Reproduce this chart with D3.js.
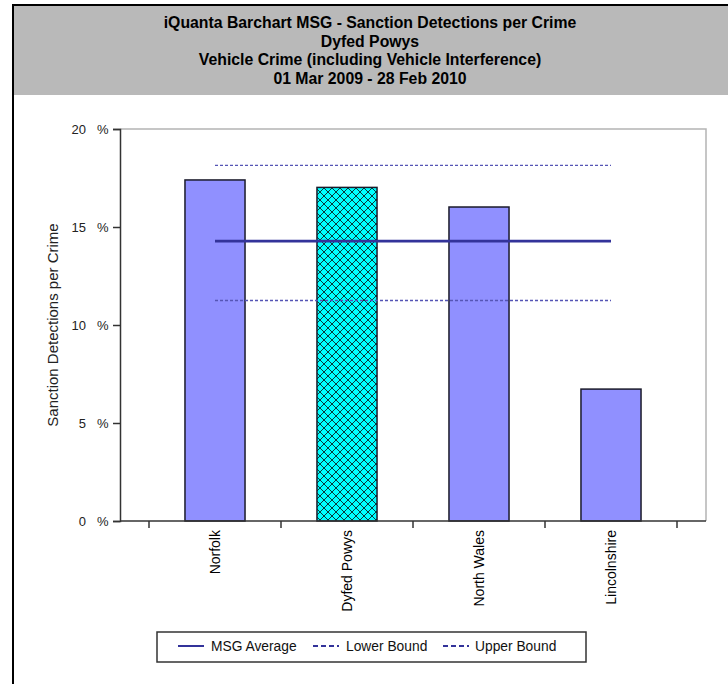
<!DOCTYPE html>
<html><head><meta charset="utf-8">
<script src="https://cdn.jsdelivr.net/npm/d3@7"></script>
<style>body{margin:0;background:#fff;} svg{display:block;font-family:"Liberation Sans",Arial,sans-serif;}</style>
</head><body><svg id="c" width="728" height="684"></svg>
<script>
const titleLines = ["iQuanta Barchart MSG - Sanction Detections per Crime","Dyfed Powys","Vehicle Crime (including Vehicle Interference)","01 Mar 2009 - 28 Feb 2010"];
const categories = ["Norfolk","Dyfed Powys","North Wales","Lincolnshire"];
const values = [17.4, 17.02, 16.02, 6.73];
const highlight = ["Dyfed Powys"];
const msgAverage = 14.28;
const lowerBound = 11.25;
const upperBound = 18.14;
const yTicks = [0,5,10,15,20];
const legendLabels = ["MSG Average","Lower Bound","Upper Bound"];
const yLabel = "Sanction Detections per Crime";

const svg = d3.select("#c");
const defs = svg.append("defs");
const pat = defs.append("pattern").attr("id","hatch").attr("patternUnits","userSpaceOnUse").attr("width",8).attr("height",8);
pat.append("rect").attr("width",8).attr("height",8).attr("fill","#00ffff");
pat.append("path").attr("d","M0,0L8,8M8,0L0,8M-1,7L1,9M7,-1L9,1M-1,1L1,-1M7,9L9,7").attr("stroke","#0a3a3a").attr("stroke-width",1);

// header
svg.append("rect").attr("x",13).attr("y",5).attr("width",715).attr("height",90).attr("fill","#b9b9b9");
svg.append("line").attr("x1",13).attr("x2",728).attr("y1",5).attr("y2",5).attr("stroke","#000").attr("stroke-width",2);
svg.append("line").attr("x1",13).attr("x2",13).attr("y1",4).attr("y2",684).attr("stroke","#000").attr("stroke-width",2);
svg.append("g").selectAll("text").data(titleLines).join("text")
  .attr("x",370).attr("y",(d,i)=>28+i*18.5).attr("text-anchor","middle")
  .attr("font-size",15.8).attr("font-weight","bold").attr("fill","#000").text(d=>d);

const plot = {left:120,right:706,top:129,bottom:521};
const y = d3.scaleLinear().domain([0,20]).range([plot.bottom,plot.top]);
const x = d3.scaleBand().domain(categories).range([149,677]).padding(0);
const bw = x.bandwidth()*0.455;
const cx = c => x(c)+x.bandwidth()/2;

// plot frame
svg.append("path").attr("d",`M${plot.left},${plot.top}H${plot.right}V${plot.bottom}`).attr("fill","none").attr("stroke","#b4b4b4").attr("stroke-width",1.5);

// bars
svg.append("g").selectAll("rect").data(categories).join("rect")
  .attr("x",c=>cx(c)-bw/2).attr("width",bw)
  .attr("y",(c,i)=>y(values[i])).attr("height",(c,i)=>y(0)-y(values[i]))
  .attr("fill",c=>highlight.includes(c)?"url(#hatch)":"#9090ff")
  .attr("stroke","#1a1a2a").attr("stroke-width",1.5);

// reference lines
const x1 = cx(categories[0]), x2 = cx(categories[categories.length-1]);
const refs = [
  {v:upperBound, w:1.3, dash:"3,2", c:"#5555b5"},
  {v:lowerBound, w:1.3, dash:"3,2", c:"#5555b5"},
  {v:msgAverage, w:2.6, dash:null, c:"#33339a"}
];
svg.append("g").selectAll("line").data(refs).join("line")
  .attr("x1",x1).attr("x2",x2).attr("y1",d=>y(d.v)).attr("y2",d=>y(d.v))
  .attr("stroke",d=>d.c).attr("stroke-width",d=>d.w).attr("stroke-dasharray",d=>d.dash);

// y axis
const ya = svg.append("g").attr("transform",`translate(${plot.left},0)`)
  .call(d3.axisLeft(y).tickValues(yTicks).tickSize(7).tickFormat(""));
ya.select(".domain").attr("stroke","#333").attr("stroke-width",1.5);
ya.selectAll(".tick line").attr("stroke","#333").attr("stroke-width",1.5);
const yl = svg.append("g");
yl.selectAll("text.n").data(yTicks).join("text").attr("class","n")
  .attr("x",86).attr("y",d=>y(d)+5).attr("text-anchor","end").attr("font-size",13).attr("fill","#222").text(d=>d);
yl.selectAll("text.p").data(yTicks).join("text").attr("class","p")
  .attr("x",97).attr("y",d=>y(d)+5).attr("font-size",13).attr("fill","#222").text("%");
svg.append("text").attr("transform",`translate(58,${(plot.top+plot.bottom)/2}) rotate(-90)`)
  .attr("text-anchor","middle").attr("font-size",15).attr("fill","#222").text(yLabel);

// x axis
svg.append("line").attr("x1",plot.left).attr("x2",plot.right).attr("y1",plot.bottom).attr("y2",plot.bottom).attr("stroke","#333").attr("stroke-width",1.5);
const bounds = categories.map(c=>x(c)).concat([x(categories[categories.length-1])+x.bandwidth()]);
svg.append("g").selectAll("line").data(bounds).join("line")
  .attr("x1",d=>d).attr("x2",d=>d).attr("y1",plot.bottom).attr("y2",plot.bottom+7).attr("stroke","#333").attr("stroke-width",1.5);
svg.append("g").selectAll("text").data(categories).join("text")
  .attr("transform",c=>`translate(${cx(c)+5},${plot.bottom+9}) rotate(-90)`)
  .attr("text-anchor","end").attr("font-size",14).attr("fill","#000").text(c=>c);

// legend
const lg = svg.append("g");
lg.append("rect").attr("x",157).attr("y",632).attr("width",429).attr("height",30).attr("fill","#fff").attr("stroke","#333").attr("stroke-width",1.5);
const items = [
  {x:178, tx:211, dash:null, w:2, c:"#33339a"},
  {x:313, tx:346, dash:"5,3", w:2, c:"#33339a"},
  {x:443, tx:475, dash:"5,3", w:2, c:"#33339a"}
];
items.forEach((it,i)=>{
  lg.append("line").attr("x1",it.x).attr("x2",it.x+26).attr("y1",646).attr("y2",646)
    .attr("stroke",it.c).attr("stroke-width",it.w).attr("stroke-dasharray",it.dash);
  lg.append("text").attr("x",it.tx).attr("y",651).attr("font-size",13.8).attr("fill","#111").text(legendLabels[i]);
});
</script></body></html>
